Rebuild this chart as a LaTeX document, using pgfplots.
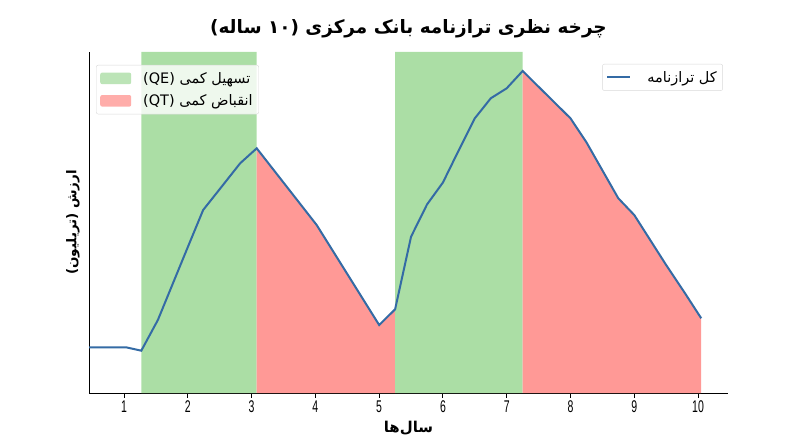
\documentclass[border=0pt]{standalone}
\usepackage{fontspec}
\usepackage{pgfplots}
\pgfplotsset{compat=1.18}
\setmainfont{DejaVu Sans}
\newfontfamily\fa[Script=Arabic]{DejaVu Sans}
\newfontfamily\tickfont[FakeStretch=0.62]{Liberation Sans}
\TeXXeTstate=1
\definecolor{qegreen}{RGB}{171,222,165}
\definecolor{qtred}{RGB}{255,153,150}
\definecolor{linecol}{RGB}{52,107,165}
\pgfplotsset{myaxis/.style={
  scale only axis, width=639bp, height=341bp,
  xmin=0.45, xmax=10.47, ymin=0, ymax=34.1,
}}
\begin{document}
\begin{tikzpicture}
\useasboundingbox (-89bp,-54bp) rectangle (711bp,393bp);
\begin{axis}[myaxis,
  axis x line*=bottom, axis y line*=left,
  axis line style={-, black, line width=0.9bp},
  xtick={1,2,3,4,5,6,7,8,9,10}, ytick=\empty,
  tick align=outside, major tick length=4.5bp,
  tick style={black, line width=0.9bp},
  /pgf/number format/assume math mode=true,
  x tick label style={font=\tickfont\fontsize{17}{17}\selectfont},
  xlabel={\fa\bfseries\fontsize{15}{17}\selectfont\beginR سال‌ها\endR},
  xlabel style={at={(axis description cs:0.5,0)}, anchor=center, yshift=-35bp},
  ylabel={\fa\bfseries\fontsize{13.5}{15}\selectfont\beginR ارزش \beginL{\rmfamily(}تریلیون{\rmfamily)}\endL\endR},
  ylabel style={at={(axis description cs:-0.025,0.5)}, anchor=center},
  title={\fa\bfseries\fontsize{18.5}{22}\selectfont\beginR چرخه نظری ترازنامه بانک مرکزی {\rmfamily)}۱۰ ساله{\rmfamily(}\endR},
  title style={at={(axis description cs:0.5,1)}, anchor=center, yshift=17bp},
  legend style={at={(0.011,0.962)}, anchor=north west, draw=black!15,
    rounded corners=2bp, fill=white, fill opacity=0.8, text opacity=1,
    font=\fontsize{14.5}{17}\selectfont, inner xsep=4bp, inner ysep=5bp,
    row sep=6bp, column sep=10bp},
  legend cell align=left,
  legend image code/.code={\fill[#1] (0bp,-5.8bp) rectangle (31bp,5.8bp);},
]
\addplot[fill=qegreen, draw=none] coordinates {(1.27,0) (1.27,34.1) (3.08,34.1) (3.08,0)} \closedcycle;
\addlegendentry{\beginR{\fa تسهیل کمی} \beginL(QE)\endL\endR}
\addplot[fill=qtred, draw=none] coordinates {(3.08,0) (3.08,24.47) (4.02,16.8) (5.0,6.8) (5.25,8.37) (5.25,0)} \closedcycle;
\addlegendentry{\beginR{\fa انقباض کمی} \beginL(QT)\endL\endR}
\addplot[fill=qegreen, draw=none, forget plot] coordinates {(5.25,0) (5.25,34.1) (7.25,34.1) (7.25,0)} \closedcycle;
\addplot[fill=qtred, draw=none, forget plot] coordinates {(7.25,0) (7.25,32.2) (8.0,27.47) (8.25,25.07) (8.75,19.47) (9.0,17.8) (9.25,15.3) (9.5,12.8) (9.78,10.13) (10.05,7.47) (10.05,0)} \closedcycle;
\end{axis}
\begin{axis}[myaxis, hide axis,
  legend style={at={(0.992,0.965)}, anchor=north east, draw=black!15,
    rounded corners=2bp, fill=white, fill opacity=0.8, text opacity=1,
    font=\fontsize{14.5}{17}\selectfont, inner xsep=4bp, inner ysep=5bp,
    column sep=14bp},
  legend image code/.code={\draw[#1] (0bp,0bp) -- (23bp,0bp);},
]
\addplot[linecol, line width=2bp] coordinates {
(0.45,4.57) (1.03,4.57) (1.27,4.23) (1.53,7.30) (2.0,14.6) (2.24,18.3) (2.53,20.63) (2.82,22.97) (3.08,24.47) (4.02,16.8) (5.0,6.8) (5.25,8.37) (5.5,15.63) (5.75,18.85) (6.0,21.05) (6.25,24.3) (6.5,27.47) (6.75,29.47) (7.0,30.47) (7.25,32.2) (8.0,27.47) (8.25,25.07) (8.75,19.47) (9.0,17.8) (9.25,15.3) (9.5,12.8) (9.78,10.13) (10.05,7.47)};
\addlegendentry{\fa\beginR کل ترازنامه\endR}
\end{axis}
\end{tikzpicture}
\end{document}
